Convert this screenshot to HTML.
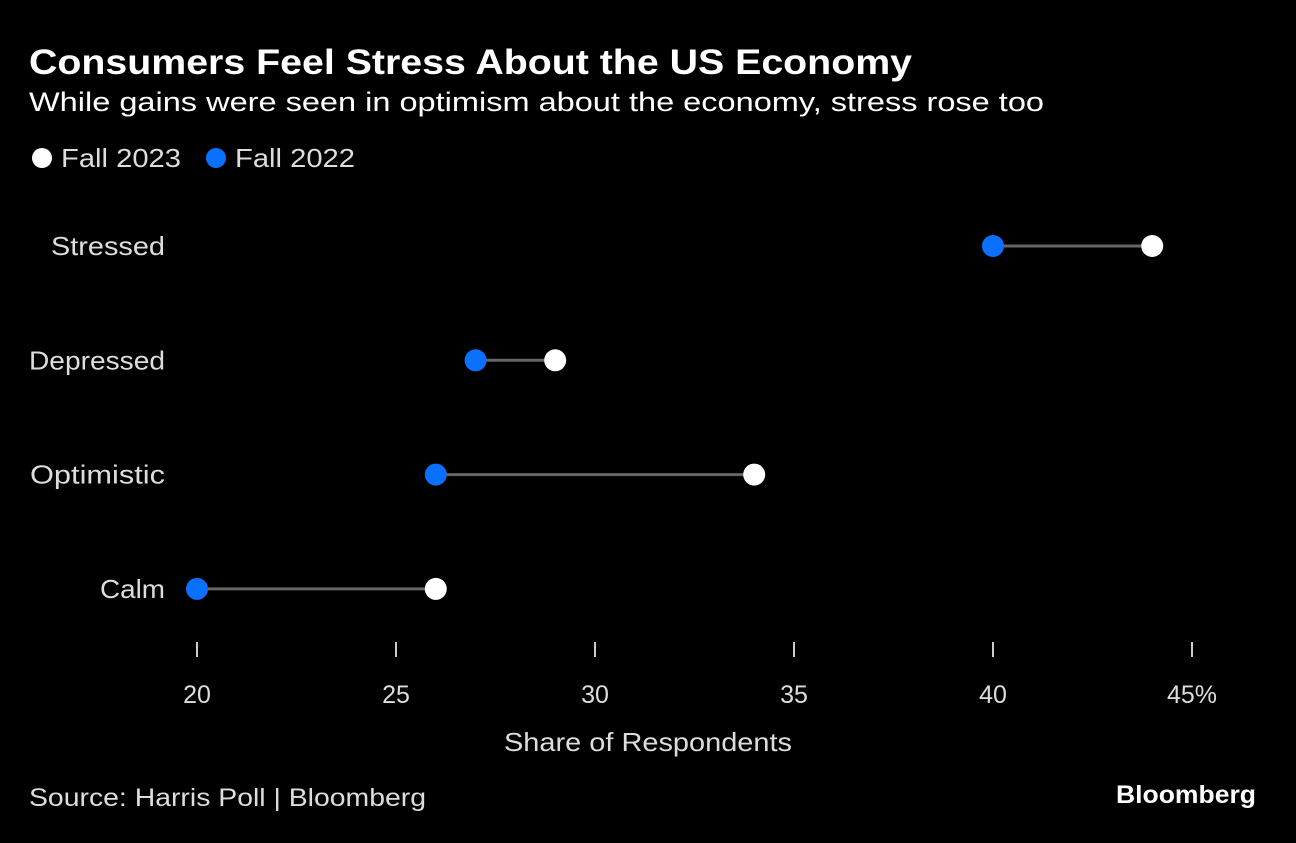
<!DOCTYPE html>
<html><head><meta charset="utf-8"><style>
body{margin:0;background:#000;width:1296px;height:838px;overflow:hidden;font-family:"Liberation Sans",sans-serif;color:#fff}
</style></head><body>
<svg width="1296" height="838">
<text x="29" y="74" font-size="35" font-weight="bold" fill="#fff" textLength="883" lengthAdjust="spacingAndGlyphs">Consumers Feel Stress About the US Economy</text>
<text x="29" y="111" font-size="27" fill="#fff" textLength="1015" lengthAdjust="spacingAndGlyphs">While gains were seen in optimism about the economy, stress rose too</text>
<g>
<circle cx="42" cy="158" r="10" fill="#fff"/>
<text x="61" y="167" font-size="26" fill="#ddd" textLength="120" lengthAdjust="spacingAndGlyphs">Fall 2023</text>
<circle cx="216" cy="158" r="10" fill="#0a70ff"/>
<text x="235" y="167" font-size="26" fill="#ddd" textLength="120" lengthAdjust="spacingAndGlyphs">Fall 2022</text>
</g>
<g id="plot"></g>
<text x="504" y="751" font-size="26" fill="#ddd" textLength="288" lengthAdjust="spacingAndGlyphs">Share of Respondents</text>
<text x="29" y="806" font-size="25" fill="#ddd" textLength="397" lengthAdjust="spacingAndGlyphs">Source: Harris Poll | Bloomberg</text>
<text x="1116" y="803" font-size="25" font-weight="bold" fill="#fff" textLength="140" lengthAdjust="spacingAndGlyphs">Bloomberg</text>
</svg>
<script>
const categories=["Stressed","Depressed","Optimistic","Calm"];
const fall2022=[40,27,26,20];
const fall2023=[44,29,34,26];
const ticks=[20,25,30,35,40,45];
const tickLabels=["20","25","30","35","40","45%"];
const labelWidths=[114,136,135,65];
const NS="http://www.w3.org/2000/svg";
const g=document.getElementById('plot');
const x=v=>197+(v-20)*39.8;
const y=i=>246+i*114.3;
function mk(t,a){const e=document.createElementNS(NS,t);for(const k in a)e.setAttribute(k,a[k]);g.appendChild(e);return e;}
ticks.forEach((t,i)=>{
 const l=mk('line',{x1:x(t),x2:x(t),y1:642,y2:657,stroke:'#ccc','stroke-width':2});
 
 
 const tx=mk('text',{x:x(t),y:703,'font-size':25,fill:'#ddd','text-anchor':'middle'});
 tx.textContent=tickLabels[i];
 
 
});
categories.forEach((c,i)=>{
 const lb=mk('text',{x:165-labelWidths[i],y:y(i)+9,'font-size':26,fill:'#ddd',textLength:labelWidths[i],lengthAdjust:'spacingAndGlyphs'});
 lb.textContent=c;
 
 
 const ln=mk('line',{x1:x(fall2022[i]),x2:x(fall2023[i]),y1:y(i),y2:y(i),stroke:'#666','stroke-width':3});
 
 
 const a=mk('circle',{cx:x(fall2022[i]),cy:y(i),r:11,fill:'#0a70ff'});
 
 
 const b=mk('circle',{cx:x(fall2023[i]),cy:y(i),r:11,fill:'#fff'});
 
 
});
</script>
</body></html>
